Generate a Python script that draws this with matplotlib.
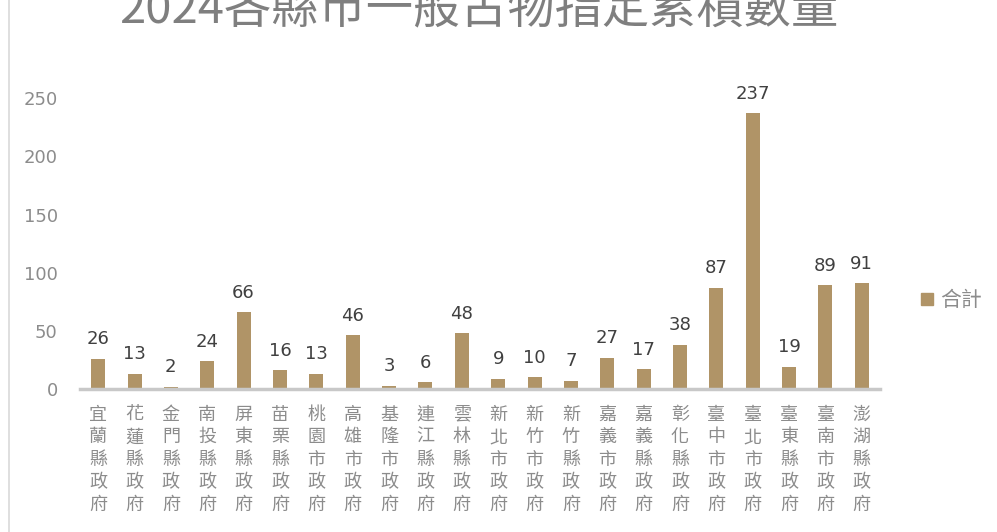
import matplotlib.pyplot as plt
from matplotlib.lines import Line2D

plt.rcParams['font.family'] = ['Noto Sans CJK TC', 'DejaVu Sans']

title = '2024各縣市一般古物指定累積數量'
agencies = ['宜蘭縣政府', '花蓮縣政府', '金門縣政府', '南投縣政府', '屏東縣政府',
            '苗栗縣政府', '桃園市政府', '高雄市政府', '基隆市政府', '連江縣政府',
            '雲林縣政府', '新北市政府', '新竹市政府', '新竹縣政府', '嘉義市政府',
            '嘉義縣政府', '彰化縣政府', '臺中市政府', '臺北市政府', '臺東縣政府',
            '臺南市政府', '澎湖縣政府']
totals = [26, 13, 2, 24, 66, 16, 13, 46, 3, 6, 48, 9, 10, 7, 27, 17, 38, 87,
          237, 19, 89, 91]
yticks = [0, 50, 100, 150, 200, 250]
series_name = '合計'

bar_color = '#B09467'
grey = '#8C8C8C'
digits = ['DejaVu Sans']

fig = plt.figure(figsize=(9.97, 5.32), dpi=100)
ax = fig.add_axes([0.0802, 0.2688, 0.8024, 0.656])

x = range(len(agencies))
ax.bar(x, totals, width=0.385, color=bar_color, zorder=2)
for xi, v in zip(x, totals):
    ax.text(xi, v + 9, str(v), ha='center', va='bottom', fontsize=13,
            color='#404040', family=digits)

ax.set_xlim(-0.5, len(agencies) - 0.5)
ax.set_ylim(0, 300)
ax.set_yticks(yticks)
ax.set_yticklabels([str(t) for t in yticks], fontsize=13, color=grey,
                   family=digits)
ax.set_xticks(list(x))
ax.set_xticklabels(['\n'.join(a) for a in agencies], fontsize=13,
                   color=grey, va='top', linespacing=1.33)
ax.tick_params(axis='both', length=0)
ax.tick_params(axis='y', pad=16)
ax.tick_params(axis='x', pad=12)
for s in ['top', 'right', 'left']:
    ax.spines[s].set_visible(False)
ax.spines['bottom'].set_color('#C8C8C8')
ax.spines['bottom'].set_linewidth(2.5)

fig.text(0.48, 1 - 33 / 532, title, ha='center', va='bottom', fontsize=34,
         color='#7F7F7F')

handle = Line2D([], [], marker='s', linestyle='none', markersize=8,
                markerfacecolor=bar_color, markeredgecolor=bar_color)
fig.legend([handle], [series_name], loc='center left',
           bbox_to_anchor=(0.901, 1 - 300 / 532), frameon=False,
           prop={'size': 15}, labelcolor=grey,
           handletextpad=0.1, handlelength=1.0)

fig.add_artist(Line2D([9 / 997, 9 / 997], [0, 1], color='#D9D9D9',
                      linewidth=1.2, transform=fig.transFigure))

fig.savefig('out.png', dpi=100)
